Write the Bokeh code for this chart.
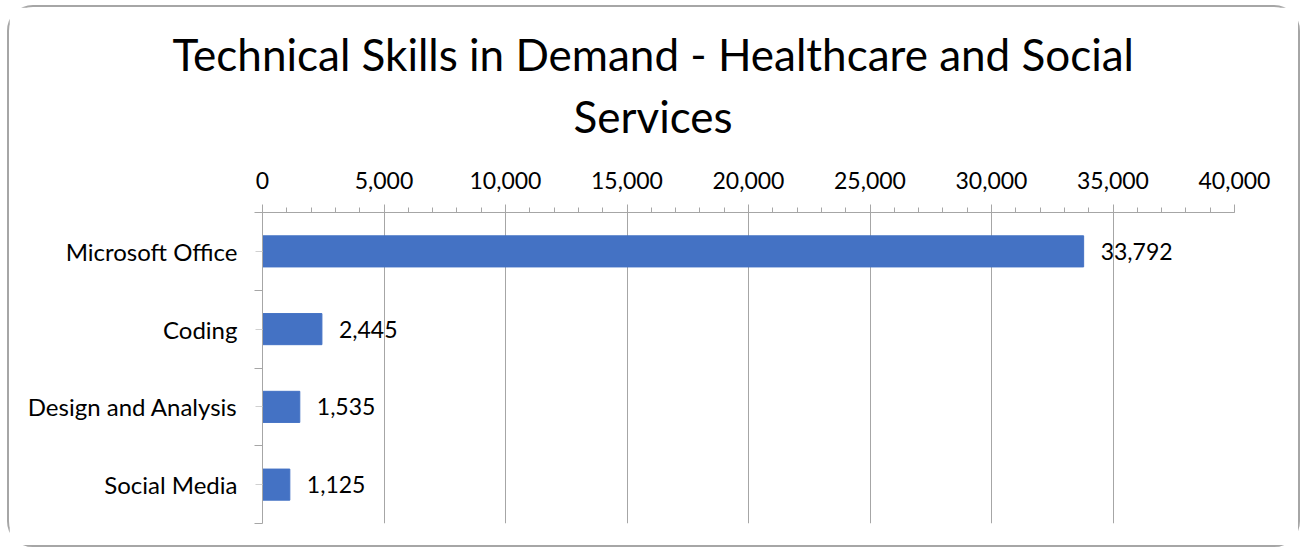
from bokeh.plotting import figure
from bokeh.models import Range1d, FixedTicker, NumeralTickFormatter, Title, ColumnDataSource
from bokeh.core.properties import value
from bokeh.embed import file_html
from bokeh.resources import INLINE

categories = ["Microsoft Office", "Coding", "Design and Analysis", "Social Media"]
counts = [33792, 2445, 1535, 1125]
x_ticks = [0, 5000, 10000, 15000, 20000, 25000, 30000, 35000, 40000]
title_lines = ["Technical Skills in Demand - Healthcare and Social", "Services"]

FONT = "Lato"
GRAY = "#a6a6a6"

ys = [i + 0.5 for i in range(len(categories))]
labels = [f"{v:,}" for v in counts]
src = ColumnDataSource(dict(y=ys, v=counts, lab=labels))

p = figure(width=1293, height=542, output_backend="svg", toolbar_location=None,
           x_range=Range1d(0, 40000), y_range=Range1d(len(categories), 0),
           x_axis_location="above", min_border_left=253, min_border_right=68,
           min_border_top=205, min_border_bottom=26)
p.title = None

# spacer between axis and title lines
p.add_layout(Title(text=" ", text_font_size="1px", standoff=17, text_color="#ffffff"), "above")
# second line: closer to the axis
p.add_layout(Title(text=title_lines[1], align="left", offset=311, standoff=14,
                   text_font=FONT, text_font_size="44px", text_font_style="normal",
                   text_color="#000000"), "above")
p.add_layout(Title(text=title_lines[0], align="left", offset=-90, standoff=2,
                   text_font=FONT, text_font_size="44px", text_font_style="normal",
                   text_color="#000000"), "above")

p.hbar(y="y", right="v", left=0, height=0.4, source=src, color="#4472C4")
p.text(x="v", y="y", text="lab", source=src, x_offset=17, text_align="left",
       text_baseline="middle", text_font=value(FONT), text_font_size="23px",
       text_color="#000000")

xa = p.xaxis[0]
xa.ticker = FixedTicker(ticks=x_ticks, minor_ticks=list(range(0, 40001, 1000)))
xa.formatter = NumeralTickFormatter(format="0,0")
xa.major_label_text_font = FONT
xa.major_label_text_font_size = "23px"
xa.major_label_text_color = "#000000"
xa.major_label_standoff = 16
xa.axis_line_color = GRAY
xa.major_tick_line_color = GRAY
xa.minor_tick_line_color = GRAY
xa.major_tick_out = 8
xa.major_tick_in = 0
xa.minor_tick_out = 5
xa.minor_tick_in = 0

ya = p.yaxis[0]
ya.ticker = FixedTicker(ticks=ys, minor_ticks=list(range(0, len(categories) + 1)))
ya.major_label_overrides = {y: c for y, c in zip(ys, categories)}
ya.major_label_text_font = FONT
ya.major_label_text_font_size = "24px"
ya.major_label_text_color = "#000000"
ya.major_label_standoff = 17
ya.axis_line_color = GRAY
ya.major_tick_line_color = "#d0d0d0"
ya.major_tick_out = 7
ya.major_tick_in = 0
ya.minor_tick_line_color = GRAY
ya.minor_tick_out = 8
ya.minor_tick_in = 0

p.xgrid.ticker = FixedTicker(ticks=x_ticks)
p.xgrid.grid_line_color = GRAY
p.ygrid.grid_line_color = None
p.outline_line_color = None
p.styles = {"border": "2px solid #a6a6a6", "border-radius": "26px",
            "box-sizing": "border-box", "margin": "5px 0 0 7px"}

open("out.html", "w").write(file_html(p, INLINE))
